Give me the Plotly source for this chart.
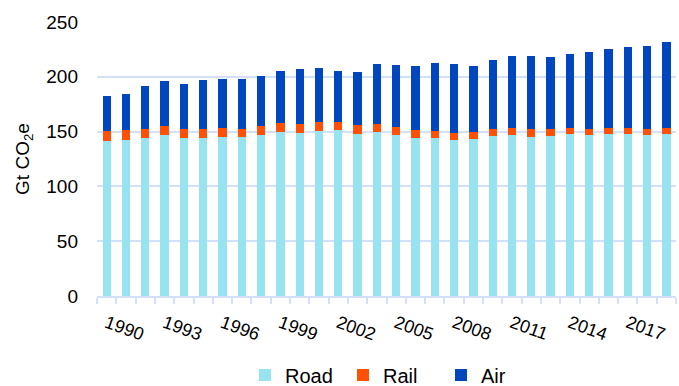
import plotly.graph_objects as go

years = list(range(1990, 2020))

road = [141.0, 141.9, 143.8, 146.5, 143.8, 144.4, 145.0, 144.7, 146.5, 149.6,
        149.0, 150.8, 151.1, 148.1, 149.9, 146.8, 144.4, 143.8, 141.9, 143.5,
        145.6, 146.5, 145.3, 145.6, 147.4, 146.5, 147.4, 148.0, 147.1, 148.0]
rail = [9.2, 9.2, 8.2, 8.9, 8.2, 8.2, 8.5, 7.9, 8.3, 8.5,
        7.9, 7.6, 7.9, 8.2, 7.3, 7.7, 6.7, 7.0, 7.1, 6.4,
        6.4, 7.0, 6.7, 7.0, 6.1, 6.1, 6.1, 5.5, 5.5, 5.2]
air = [32.3, 33.6, 39.4, 41.2, 41.8, 44.9, 44.9, 45.2, 45.7, 47.6,
       50.3, 49.8, 46.7, 48.5, 54.1, 56.7, 59.2, 61.7, 62.5, 60.1,
       63.2, 65.7, 66.9, 65.3, 67.2, 69.6, 71.8, 73.6, 75.4, 78.5]

tick_years = years[::3]

colors = {"Road": "#97E4F0", "Rail": "#FF5005", "Air": "#0046BE"}
font_family = "Liberation Sans, Arial, Helvetica, sans-serif"

fig = go.Figure()
for name, vals in (("Road", road), ("Rail", rail), ("Air", air)):
    fig.add_trace(go.Bar(
        x=years, y=vals, name=name,
        marker=dict(color=colors[name], line=dict(width=0)),
    ))

grid_color = "#D3E0F8"

fig.update_layout(
    barmode="stack",
    bargap=0.57,
    width=679, height=386,
    margin=dict(l=97, r=3, t=22, b=90, autoexpand=False),
    paper_bgcolor="white",
    plot_bgcolor="white",
    font=dict(family=font_family, color="#000000", size=18),
    showlegend=True,
    legend=dict(
        orientation="h", x=0.2556, xanchor="left",
        y=-0.288, yanchor="middle",
        font=dict(size=20), itemwidth=30, traceorder="normal",
        entrywidthmode="pixels", entrywidth=53,
        tracegroupgap=0,
    ),
    xaxis=dict(
        range=[1989.5, 2019.5],
        tickmode="array", tickvals=tick_years, ticktext=[str(y) for y in tick_years],
        tickangle=20, ticks="", tickfont=dict(size=18), ticklabelstandoff=8,
        showline=True, linecolor=grid_color, linewidth=2,
        showgrid=False, zeroline=False,
        minor=dict(
            tickmode="array",
            tickvals=[y - 0.5 for y in years] + [years[-1] + 0.5],
            ticks="outside", ticklen=6, tickcolor=grid_color, tickwidth=1.5,
            showgrid=False,
        ),
    ),
    yaxis=dict(
        range=[0, 250], dtick=50, tick0=0,
        showgrid=True, gridcolor=grid_color, gridwidth=2,
        zeroline=False, showline=False, ticks="",
        tickfont=dict(size=19), ticklabelstandoff=18,
        title=dict(text="Gt CO<sub>2</sub>e", font=dict(size=19), standoff=11),
    ),
)

fig.write_html("out.html")
